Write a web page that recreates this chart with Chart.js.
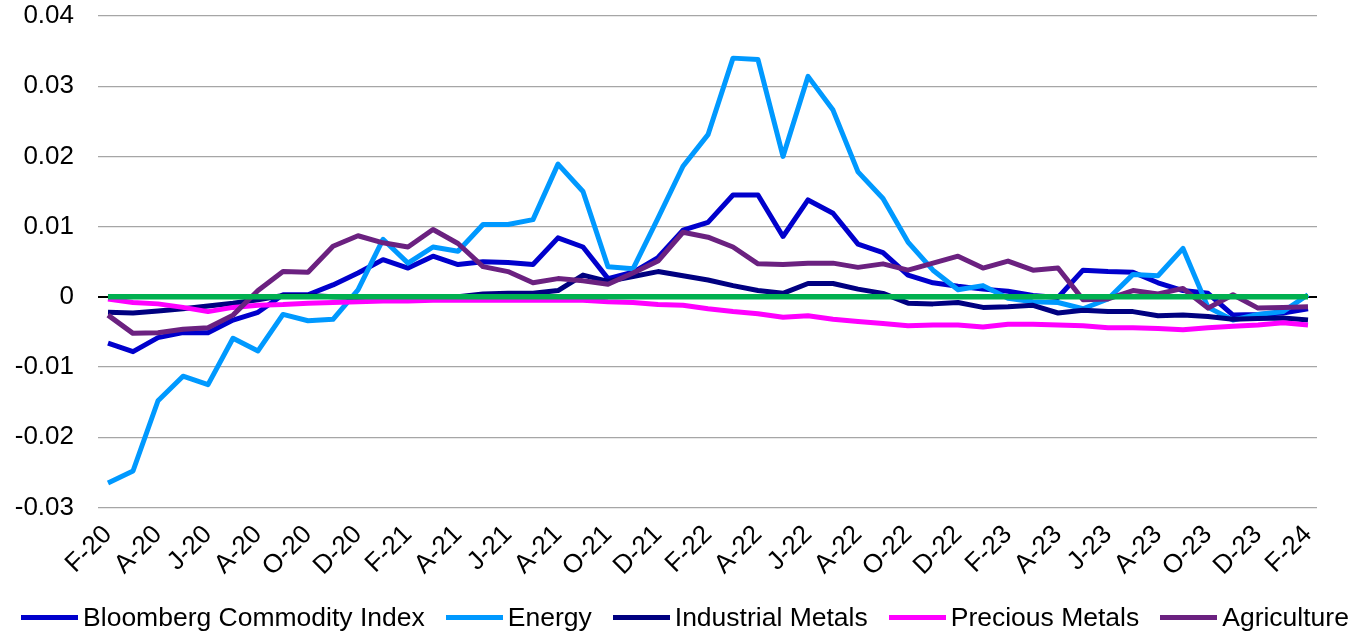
<!DOCTYPE html>
<html>
<head>
<meta charset="utf-8">
<title>Commodity contributions</title>
<script src="https://cdn.jsdelivr.net/npm/chart.js@4.4.1/dist/chart.umd.min.js"></script>
<style>
  html, body { margin: 0; padding: 0; background: #ffffff; }
  #wrap { position: relative; width: 1363px; height: 634px; overflow: hidden; }
  #legend {
    position: absolute; left: 0; top: 602px; width: 1363px; height: 30px;
    display: flex; justify-content: center; align-items: center;
    padding-left: 7px; box-sizing: border-box;
    font-family: "Liberation Sans", Arial, sans-serif; font-size: 26.5px; color: #000;
  }
  .item { display: flex; align-items: center; margin: 0 10.5px; white-space: nowrap; }
  .swatch { display: inline-block; width: 57px; height: 5px; margin-right: 5px; }
</style>
</head>
<body>
<div id="wrap">
  <canvas id="chart" width="1363" height="634"></canvas>
  <div id="legend"></div>
</div>
<script>
// Monthly observations, Feb 2020 .. Feb 2024
const months = [
  'Feb-20','Mar-20','Apr-20','May-20','Jun-20','Jul-20','Aug-20','Sep-20','Oct-20','Nov-20','Dec-20',
  'Jan-21','Feb-21','Mar-21','Apr-21','May-21','Jun-21','Jul-21','Aug-21','Sep-21','Oct-21','Nov-21','Dec-21',
  'Jan-22','Feb-22','Mar-22','Apr-22','May-22','Jun-22','Jul-22','Aug-22','Sep-22','Oct-22','Nov-22','Dec-22',
  'Jan-23','Feb-23','Mar-23','Apr-23','May-23','Jun-23','Jul-23','Aug-23','Sep-23','Oct-23','Nov-23','Dec-23',
  'Jan-24','Feb-24'
];

// Axis labels (every second month on the x axis)
const tickLabels = [
  'F-20','A-20','J-20','A-20','O-20','D-20','F-21','A-21','J-21','A-21','O-21','D-21',
  'F-22','A-22','J-22','A-22','O-22','D-22','F-23','A-23','J-23','A-23','O-23','D-23','F-24'
];
const yTicks = [-0.03, -0.02, -0.01, 0, 0.01, 0.02, 0.03, 0.04];
const yTickLabels = ['-0.03', '-0.02', '-0.01', '0', '0.01', '0.02', '0.03', '0.04'];

// Series
const bloomberg = [
  -0.0066, -0.0078, -0.0058, -0.0051, -0.0051, -0.0033, -0.0022, 0.0003, 0.0003, 0.0017,
   0.0034,  0.0053,  0.0041,  0.0058,  0.0046,  0.0050,  0.0049, 0.0046, 0.0084, 0.0071,
   0.0026,  0.0035,  0.0056,  0.0095,  0.0106,  0.0145,  0.0145, 0.0086, 0.0138, 0.0119,
   0.0075,  0.0063,  0.0031,  0.0020,  0.0015,  0.0011,  0.0008, 0.0002, -0.0001, 0.0038,
   0.0036,  0.0035,  0.0020,  0.0009,  0.0005, -0.0026, -0.0025, -0.0023, -0.0017
];
const energy = [
  -0.0265, -0.0248, -0.0148, -0.0113, -0.0125, -0.0059, -0.0077, -0.0025, -0.0034, -0.0032,
   0.0010,  0.0082,  0.0048,  0.0071,  0.0065,  0.0103,  0.0103,  0.0110,  0.0189,  0.0150,
   0.0043,  0.0040,  0.0112,  0.0186,  0.0231,  0.0340,  0.0338,  0.0200,  0.0314,  0.0266,
   0.0178,  0.0140,  0.0078,  0.0038,  0.0010,  0.0016, -0.0002, -0.0007, -0.0008, -0.0017,
  -0.0003,  0.0032,  0.0030,  0.0069, -0.0015, -0.0033, -0.0025, -0.0021,  0.0003
];
const industrialMetals = [
  -0.0022, -0.0023, -0.0020, -0.0017, -0.0013, -0.0009, -0.0004, 0.0002, 0.0002, 0.0000,
  -0.0001, -0.0002, -0.0003, -0.0002,  0.0000,  0.0004,  0.0005, 0.0005, 0.0009, 0.0031,
   0.0022,  0.0029,  0.0036,  0.0030,  0.0024,  0.0016,  0.0009, 0.0005, 0.0019, 0.0019,
   0.0011,  0.0005, -0.0009, -0.0010, -0.0008, -0.0015, -0.0014, -0.0012, -0.0023, -0.0019,
  -0.0021, -0.0021, -0.0027, -0.0026, -0.0028, -0.0032, -0.0031, -0.0030, -0.0033
];
const preciousMetals = [
  -0.0003, -0.0008, -0.0010, -0.0015, -0.0021, -0.0015, -0.0012, -0.0011, -0.0009, -0.0008,
  -0.0007, -0.0006, -0.0006, -0.0005, -0.0005, -0.0005, -0.0005, -0.0005, -0.0005, -0.0005,
  -0.0007, -0.0008, -0.0011, -0.0012, -0.0017, -0.0021, -0.0024, -0.0029, -0.0027, -0.0032,
  -0.0035, -0.0038, -0.0041, -0.0040, -0.0040, -0.0043, -0.0039, -0.0039, -0.0040, -0.0041,
  -0.0044, -0.0044, -0.0045, -0.0047, -0.0044, -0.0042, -0.0040, -0.0037, -0.0040
];
const agriculture = [
  -0.0026, -0.0052, -0.0051, -0.0046, -0.0044, -0.0026, 0.0009, 0.0036, 0.0035, 0.0072,
   0.0087,  0.0077,  0.0071,  0.0096,  0.0076,  0.0043, 0.0036, 0.0020, 0.0026, 0.0023,
   0.0018,  0.0034,  0.0051,  0.0092,  0.0085,  0.0071, 0.0047, 0.0046, 0.0048, 0.0048,
   0.0042,  0.0047,  0.0038,  0.0048,  0.0058,  0.0041, 0.0051, 0.0038, 0.0041, -0.0004,
  -0.0003,  0.0009,  0.0004,  0.0012, -0.0016,  0.0003, -0.0016, -0.0015, -0.0014
];
const zeroLine = months.map(() => 0);

const seriesNames = ['Bloomberg Commodity Index', 'Energy', 'Industrial Metals', 'Precious Metals', 'Agriculture'];
const seriesValues = [bloomberg, energy, industrialMetals, preciousMetals, agriculture];
const seriesColors = ['#0000CC', '#0099FF', '#000080', '#FF00FF', '#6B2180'];

const FONT = '"Liberation Sans", Arial, sans-serif';
Chart.defaults.font.family = FONT;
Chart.defaults.color = '#000000';

const toPoints = arr => arr.map((v, i) => ({ x: i, y: v }));

const datasets = seriesNames.map((name, k) => ({
  label: name,
  data: toPoints(seriesValues[k]),
  borderColor: seriesColors[k],
  backgroundColor: seriesColors[k],
  borderWidth: 5,
  borderJoinStyle: 'round',
  pointRadius: 0,
  tension: 0,
  order: seriesNames.length - k   // later series are painted above earlier ones
}));
datasets.push({
  label: 'zero',
  data: toPoints(zeroLine),
  borderColor: '#00B050',
  backgroundColor: '#00B050',
  borderWidth: 5.5,
  pointRadius: 0,
  tension: 0,
  order: -1
});

const isZero = v => Math.abs(v) < 1e-9;

new Chart(document.getElementById('chart'), {
  type: 'line',
  data: { datasets },
  options: {
    responsive: false,
    animation: false,
    events: [],
    layout: { padding: { top: 16, right: 46, bottom: 0, left: 0 } },
    plugins: {
      legend: { display: false },
      tooltip: { enabled: false }
    },
    scales: {
      x: {
        type: 'linear',
        min: -0.4,
        max: 48.36,
        afterBuildTicks: s => { s.ticks = tickLabels.map((_, k) => ({ value: k * 2 })); },
        afterFit: s => { s.height = 126.5; },
        grid: { display: false, drawTicks: false },
        border: { display: false },
        ticks: {
          autoSkip: false,
          minRotation: 45,
          maxRotation: 45,
          padding: 12,
          color: '#000000',
          font: { size: 26 },
          callback: v => tickLabels[Math.round(v / 2)]
        }
      },
      y: {
        min: -0.03,
        max: 0.04,
        afterBuildTicks: s => { s.ticks = yTicks.map(v => ({ value: v })); },
        afterFit: s => { s.width = 98; s.paddingTop = 0; s.paddingBottom = 0; },
        border: { display: false },
        grid: {
          drawTicks: false,
          color: c => (c.tick && isZero(c.tick.value)) ? '#000000' : '#A6A6A6',
          lineWidth: c => (c.tick && isZero(c.tick.value)) ? 2 : 1.3
        },
        ticks: {
          padding: 24,
          color: '#000000',
          font: { size: 26 },
          callback: (v, i) => yTickLabels[i]
        }
      }
    }
  }
});

// Legend row under the plot
const legendEl = document.getElementById('legend');
seriesNames.forEach((name, k) => {
  const item = document.createElement('div');
  item.className = 'item';
  const swatch = document.createElement('span');
  swatch.className = 'swatch';
  swatch.style.background = seriesColors[k];
  const text = document.createElement('span');
  text.textContent = name;
  item.appendChild(swatch);
  item.appendChild(text);
  legendEl.appendChild(item);
});
</script>
</body>
</html>
